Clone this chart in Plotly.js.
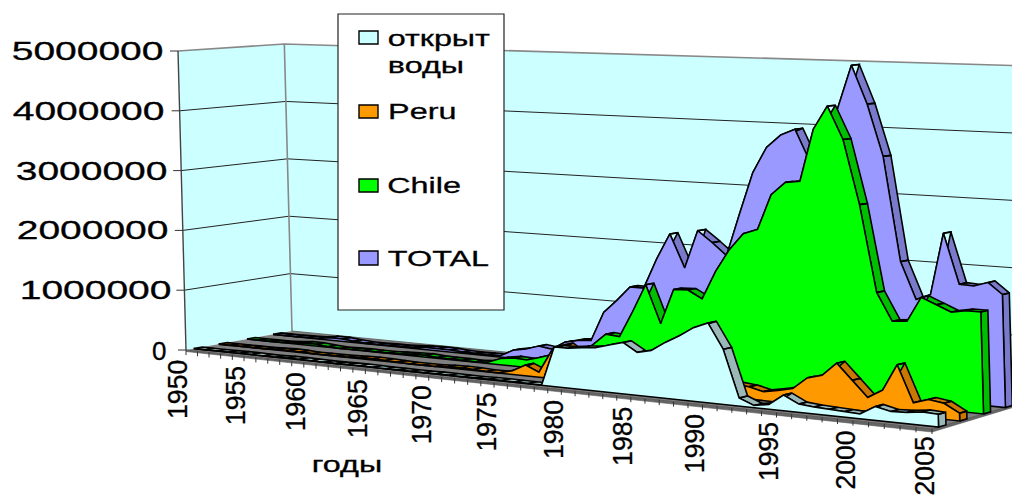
<!DOCTYPE html>
<html><head><meta charset="utf-8">
<script src="https://cdn.plot.ly/plotly-3.0.1.min.js"></script>
<style>html,body{margin:0;padding:0;background:#fff;overflow:hidden}#c{width:1012px;height:500px}</style>
</head><body><div id="c"></div>
<script>
// catch by year, 1950..2005 (tonnes)
const firstYear = 1950;
const openWater = [0,0,0,0,5000,5000,0,0,8000,8000,5000,0,0,5000,8000,5000,0,0,0,0,5000,5000,0,0,5000,8000,5000,5000,5000,
  610000,610000,640000,660000,720000,780000,650000,700000,840000,960000,1100000,1190000,820000,120000,30000,70000,230000,120000,100000,90000,80000,70000,200000,150000,160000,190000,180000];
const peru = [0,0,0,0,0,10000,15000,10000,0,0,0,5000,15000,20000,15000,5000,0,0,0,15000,20000,15000,5000,
  5000,60000,170000,80000,440000,550000,400000,300000,250000,200000,150000,100000,100000,150000,200000,200000,200000,200000,180000,130000,170000,220000,400000,460000,660000,430000,200000,330000,720000,190000,260000,230000,110000];
const chile = [0,0,0,0,10000,30000,30000,10000,0,5000,10000,5000,5000,15000,25000,30000,15000,10000,10000,5000,
  20000,100000,130000,120000,180000,250000,250000,300000,460000,650000,630000,1040000,1480000,890000,1440000,1450000,1330000,1770000,2120000,2380000,2460000,3000000,3200000,3230000,4020000,4380000,3890000,2930000,1640000,1230000,1250000,1620000,1530000,1440000,1480000,1480000];
const total = [0,0,0,5000,10000,40000,40000,20000,5000,5000,10000,10000,20000,35000,40000,35000,20000,15000,20000,20000,
  130000,170000,240000,210000,340000,390000,410000,880000,1090000,1320000,1320000,1800000,2210000,1690000,2290000,2120000,1930000,2600000,3250000,3650000,3850000,3950000,3450000,3430000,4310000,4960000,4380000,3600000,2030000,1480000,1570000,2500000,1760000,1750000,1820000,1660000];
const legendNames = ['открыт','воды','Peru','Chile','TOTAL'];
const valueTicks = [0,1000000,2000000,3000000,4000000,5000000];
const yearLabels = [1950,1955,1960,1965,1970,1975,1980,1985,1990,1995,2000,2005];
const xTitle = 'годы';

const n = total.length, maxV = 5000000;
const wu = 0.844, wd = 1.042;
function P(u,d,v){
  const h = (v||0)/maxV;
  const X = 186 + u*(wu*932-186) + d*(wd*292-186) - 8*h;
  const Y = 350 + u*(wu*429-350) + d*(wd*331-350) - 299*h;
  const w = 1 + u*(wu-1) + d*(wd-1);
  return [X/w + d*100*Math.pow(u,4)*(1-u), Y/w];
}
const U = i => i/(n-1);
const traces = [];
function poly(pts, fill, lc, lw){
  traces.push({x:pts.map(p=>p?p[0]:null), y:pts.map(p=>p?p[1]:null), mode:'lines', fill:'toself', fillcolor:fill,
    line:{color:lc||'#000', width:lw===undefined?1.4:lw}, hoverinfo:'skip', showlegend:false, connectgaps:false});
}
function line(pts, c, w){
  traces.push({x:pts.map(p=>p?p[0]:null), y:pts.map(p=>p?p[1]:null), mode:'lines', line:{color:c, width:w},
    hoverinfo:'skip', showlegend:false});
}
// walls
const wall = '#ccffff';
poly([P(0,0),P(0,0,maxV),P(0,1,maxV),P(0,1)], wall, 'rgba(0,0,0,0)', 0);
poly([P(0,1),P(0,1,maxV),P(1.02,1,maxV),P(1.02,1)], wall, 'rgba(0,0,0,0)', 0);
let grid = [];
valueTicks.slice(1,5).forEach(v=>{ grid.push(P(0,0,v),P(0,1,v),P(1.02,1,v),null); });
line(grid,'#222',1);
line([P(0,0,maxV),P(0,1,maxV),P(1.02,1,maxV)],'#888',1.6);
line([P(0,1),P(0,1,maxV)],'#888',1.6);
line([P(0,0),P(0,0,maxV)],'#444',1.4);
// floor
const F0=P(0,0),F1=P(1,0),B1=P(1,1),B0=P(0,1);
poly([F0,F1,B1,B0], '#808080', '#555', 0.8);
poly([F0,F1,[F1[0]+0,F1[1]+3],[F0[0],F0[1]+1.5]], '#666', '#555', 0.6);
poly([F1,B1,[B1[0],B1[1]+2],[F1[0],F1[1]+3]], '#666', '#555', 0.6);
// ticks
let ticks=[];
valueTicks.forEach(v=>{const p=P(0,0,v); ticks.push(p,[p[0]-8,p[1]],null);});
for(let i=0;i<n;i++){const p=P(U(i),0); ticks.push(p,[p[0],p[1]+5],null);}
line(ticks,'#333',1);
// series, back to front
const series = [
 {v:total, d0:.815, d1:.895, c:'#9999ff', s:'#7a7acc'},
 {v:chile, d0:.565, d1:.645, c:'#00ff00', s:'#00bf00'},
 {v:peru,  d0:.30,  d1:.38,  c:'#ff9900', s:'#c87800'},
 {v:openWater, d0:.07, d1:.15, c:'#ccffff', s:'#9ab8b8'}
];
series.forEach(S=>{
  let strips=[];
  for(let i=0;i<n-1;i++){
    strips.push(P(U(i),S.d0,S.v[i]),P(U(i+1),S.d0,S.v[i+1]),P(U(i+1),S.d1,S.v[i+1]),P(U(i),S.d1,S.v[i]),P(U(i),S.d0,S.v[i]),null);
  }
  strips.push(P(1,S.d0),P(1,S.d0,S.v[n-1]),P(1,S.d1,S.v[n-1]),P(1,S.d1),P(1,S.d0));
  poly(strips,S.s,'#000',1.6);
  const face=[P(0,S.d0)];
  for(let i=0;i<n;i++) face.push(P(U(i),S.d0,S.v[i]));
  face.push(P(1,S.d0),P(0,S.d0));
  poly(face,S.c,'#000',1.5);
});
// annotations
const F='Liberation Sans, Arial, sans-serif';
const ann=[];
function A(t,x,y,size,angle){ann.push({text:t,x,y,xref:'x',yref:'y',showarrow:false,xanchor:'center',yanchor:'middle',
  textangle:angle||0,font:{family:F,size:size,color:'#000'}});}
valueTicks.forEach(v=>{
  const p=P(0,0,v);
  if(v===0) A('0',p[0]-27,p[1]+1,26);
  else A(String(v),p[0]-(v>=4000000?91:v>=2000000?90:v>=1000000?89:0),p[1]+0,26);
});
yearLabels.forEach(y=>{const p=P((y-firstYear)/(n-1),0); A(String(y),p[0]-8,p[1]+(y===2005?37:39.5),28,-90);});
A(xTitle,347,464,22);
A(legendNames[0],439,38,22);
A(legendNames[1],426,65,22);
A(legendNames[2],422,111,22);
A(legendNames[3],424,185,22);
A(legendNames[4],438,258,22);
// legend frame and swatches
const rect=(x0,y0,x1,y1,fill,lc,lw)=>({type:'rect',xref:'x',yref:'y',x0,y0,x1,y1,fillcolor:fill,line:{color:lc,width:lw},layer:'above'});
const shapes=[rect(338,14,504,310,'#fff','#222',1.2),
 rect(359,31,378,44,'#ccffff','#000',1.4),
 rect(359,105,378,118,'#ff9900','#000',1.4),
 rect(359,179,378,192,'#00ff00','#000',1.4),
 rect(359,251,378,265,'#9999ff','#000',1.4)];
const layout={width:1012,height:500,margin:{l:0,r:0,t:0,b:0},paper_bgcolor:'#fff',plot_bgcolor:'#fff',showlegend:false,
 xaxis:{range:[0,1012],visible:false,fixedrange:true},yaxis:{range:[500,0],visible:false,fixedrange:true},annotations:ann,shapes:shapes};
Plotly.newPlot('c',traces,layout,{displayModeBar:false,staticPlot:true}).then(()=>{
  // the reference's text is stretched by its bitmap scaling
  document.querySelectorAll('.annotation text').forEach(t=>{
    const s=t.textContent;
    const b=t.getBBox(), cx=b.x+b.width/2;
    const k=/^\d{7}$/.test(s)?1.5:(s==='0'?1.0:(/^\d{4}$/.test(s)?0.95:1.47));
    t.setAttribute('transform','translate('+cx+',0) scale('+k+',1) translate('+(-cx)+',0)');
    t.style.stroke='#000'; t.style.strokeWidth='0.3px';
  });
});
</script></body></html>
